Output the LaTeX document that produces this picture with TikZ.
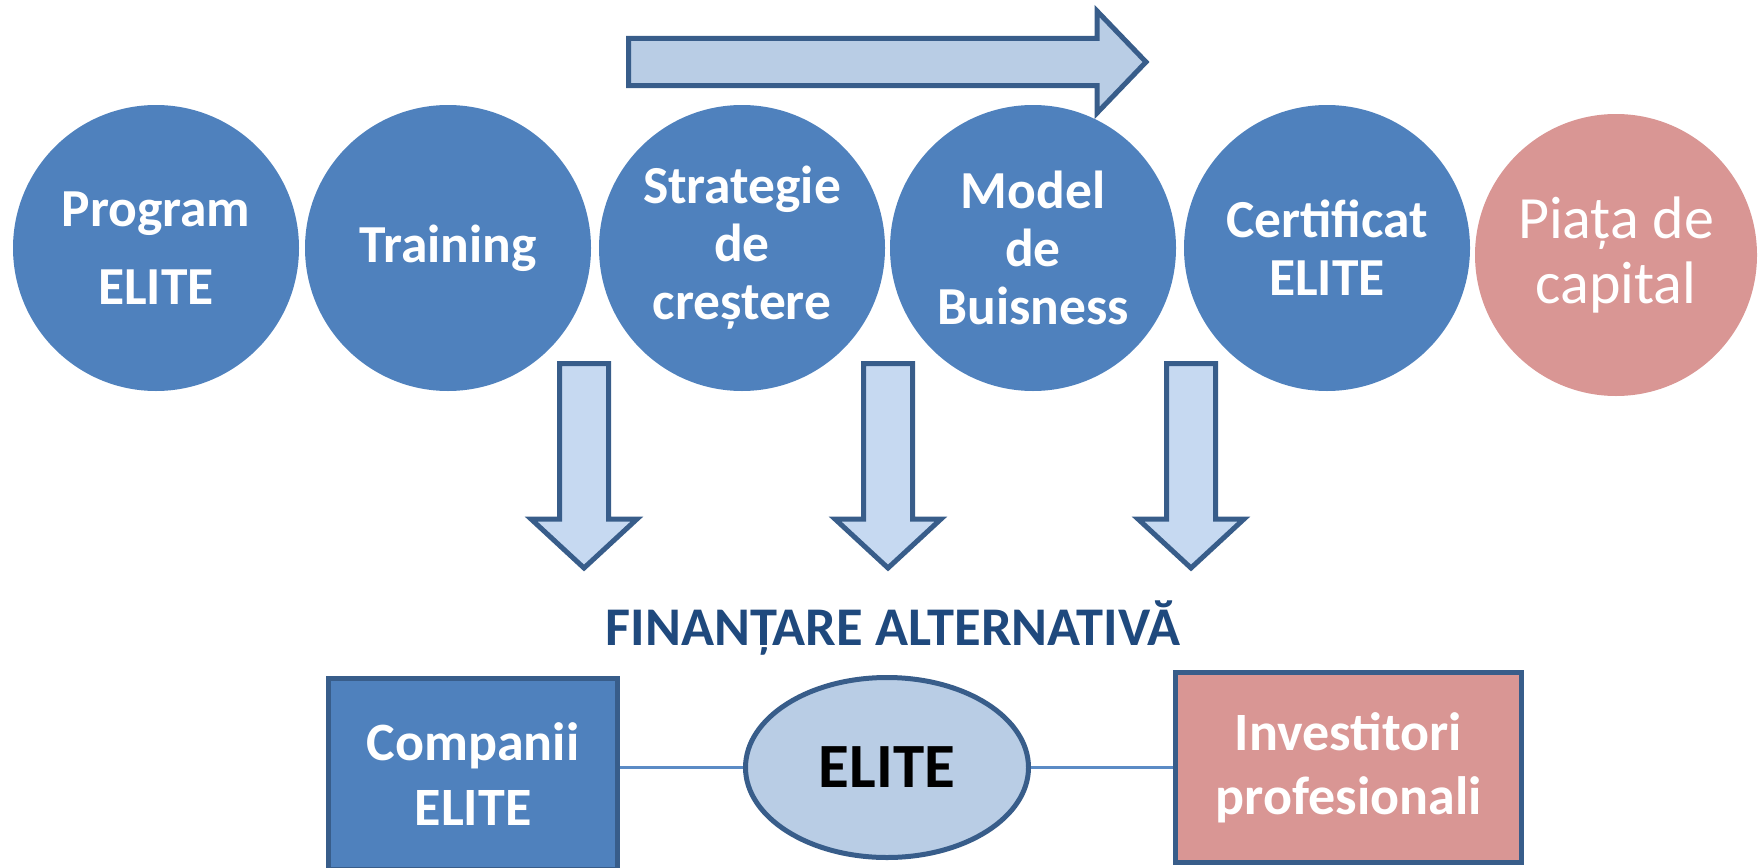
\documentclass[tikz,border=0pt]{standalone}
\usepackage{fontspec}
\setmainfont{Carlito}
\usetikzlibrary{shapes.geometric}
\definecolor{cblue}{HTML}{4F81BD}
\definecolor{cpink}{HTML}{D99694}
\definecolor{carrow}{HTML}{B9CDE5}
\definecolor{carrowb}{HTML}{C6D9F1}
\definecolor{cborder}{HTML}{385D8A}
\definecolor{ctitle}{HTML}{1F497D}
\definecolor{cline}{HTML}{5B8BC5}
\begin{document}
\begin{tikzpicture}[x=1pt,y=-1pt,
  circ/.style={circle, minimum size=286pt, inner sep=0pt, fill=cblue, text=white, align=center,
    font=\fontsize{53.5}{58}\selectfont\bfseries},
  blockarrow/.style={draw=cborder, line width=5pt, line join=miter},
  boxnode/.style={rectangle, draw=cborder, line width=5pt, text=white, align=center, inner sep=0pt,
    font=\fontsize{54}{58}\selectfont\bfseries},
  conn/.style={draw=cline, line width=2.5pt}]
\clip (0,0) rectangle (1758,867);
% circles
\node[circ] (c1) at (156,248) {Program\\[20pt]ELITE};
\node[circ] (c2) at (448,248) {Training};
\node[circ] (c3) at (742,248) {Strategie\\de\\creștere};
\node[circ] (c4) at (1033,248) {Model\\de\\Buisness};
\node[circ] (c5) at (1327,248) {Certificat\\ELITE};
\node[circ, fill=cpink, minimum size=282pt, font=\fontsize{60}{65}\selectfont] (c6) at (1616,255) {Piața de\\capital};
% top block arrow
\draw[blockarrow, fill=carrow] (628.5,38.5) -- (1097,38.5) -- (1097,11) -- (1146,62) -- (1097,113)
  -- (1097,85.5) -- (628.5,85.5) -- cycle;
% down block arrows
\foreach \cx in {584,888,1191}{
  \draw[blockarrow, fill=carrowb] ({\cx-24.5},363.5) -- ({\cx+24.5},363.5) -- ({\cx+24.5},519)
    -- ({\cx+53},519) -- (\cx,568) -- ({\cx-53},519) -- ({\cx-24.5},519) -- cycle;
}
% title
\node[anchor=base, text=ctitle, font=\fontsize{54.5}{58}\selectfont\bfseries, inner sep=0pt] (title) at (893,645) {FINANȚARE ALTERNATIVĂ};
% bottom row
\node[boxnode, fill=cblue, minimum width=289pt, minimum height=191pt] (comp) at (473,774) {Companii\\[7pt]ELITE};
\node[boxnode, fill=cpink, minimum width=346pt, minimum height=190pt] (inv) at (1348.5,767.5) {Investitori\\[6pt]profesionali};
\node[ellipse, draw=cborder, line width=5pt, fill=carrow, minimum width=283pt, minimum height=180pt, inner sep=0pt,
  font=\fontsize{63}{70}\selectfont\bfseries] (elite) at (887,767.5) {ELITE};
\draw[conn] (elite.west) -- (elite.west -| comp.east);
\draw[conn] (elite.east) -- (elite.east -| inv.west);
\end{tikzpicture}
\end{document}
